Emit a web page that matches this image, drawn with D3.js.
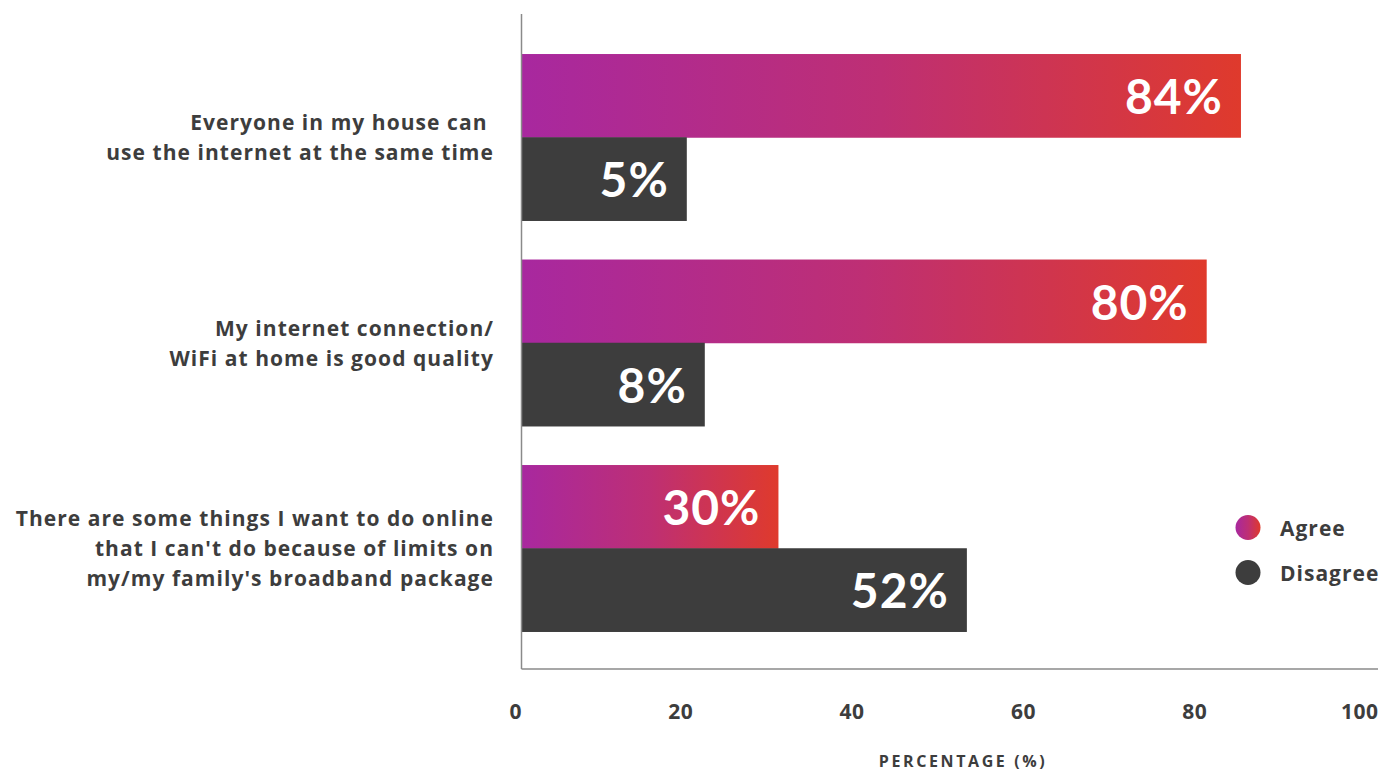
<!DOCTYPE html>
<html>
<head>
<meta charset="utf-8">
<script src="https://cdn.jsdelivr.net/npm/d3@7"></script>
<style>
  html, body { margin: 0; padding: 0; background: #fff; }
  svg { display: block; font-family: "Open Sans", Lato, sans-serif; }
</style>
</head>
<body>
<svg id="chart" width="1380" height="772"></svg>
<script>
// ---- data ----
const categories = [
  ["Everyone in my house can ", "use the internet at the same time"],
  ["My internet connection/", "WiFi at home is good quality"],
  ["There are some things I want to do online", "that I can't do because of limits on", "my/my family's broadband package"]
];
const seriesNames = ["Agree", "Disagree"];
const agreeValues = [84, 80, 30];          // labelled values (%)
const disagreeValues = [5, 8, 52];         // labelled values (%)
// bar lengths as drawn in the original (small bars were widened to fit their labels)
const agreeBarLengths = [84, 80, 30];
const disagreeBarLengths = [19.3, 21.4, 52];
const xTicks = [0, 20, 40, 60, 80, 100];
const xTitle = "PERCENTAGE (%)";

// ---- layout ----
const svg = d3.select("#chart");
const plotLeft = 521.5, plotRight = 1378, plotTop = 14, plotBottom = 669;
const textColor = "#3d3d3d";
const darkBar = "#3d3d3d";
const labelFont = "'Open Sans', sans-serif";
const valueFont = "Lato, sans-serif";

const x = d3.scaleLinear().domain([0, 100]).range([plotLeft, plotRight]);
const y = d3.scaleBand().domain(d3.range(categories.length))
  .range([34.5, 651]).paddingInner(0.19).paddingOuter(0.095);
const sub = d3.scaleBand().domain(seriesNames).range([0, y.bandwidth()]);

// gradient
const defs = svg.append("defs");
const grad = defs.append("linearGradient").attr("id", "agreeGrad")
  .attr("x1", "0%").attr("x2", "100%").attr("y1", "0%").attr("y2", "0%");
grad.append("stop").attr("offset", "0%").attr("stop-color", "#a8289f");
grad.append("stop").attr("offset", "50%").attr("stop-color", "#be2f74");
grad.append("stop").attr("offset", "100%").attr("stop-color", "#df3a2c");

const rows = categories.map((c, i) => ({
  i, lines: c,
  bars: [
    { s: "Agree", len: agreeBarLengths[i], v: agreeValues[i] },
    { s: "Disagree", len: disagreeBarLengths[i], v: disagreeValues[i] }
  ]
}));

const g = svg.append("g");
const grp = g.selectAll("g.row").data(rows).join("g").attr("class", "row")
  .attr("transform", d => `translate(0,${y(d.i)})`);

grp.selectAll("rect").data(d => d.bars).join("rect")
  .attr("x", x(0))
  .attr("y", d => sub(d.s))
  .attr("width", d => x(d.len) - x(0))
  .attr("height", sub.bandwidth() + 0.5)
  .attr("fill", d => d.s === "Agree" ? "url(#agreeGrad)" : darkBar);

grp.selectAll("text.val").data(d => d.bars).join("text").attr("class", "val")
  .attr("x", d => x(d.len) - 18)
  .attr("y", d => sub(d.s) + sub.bandwidth() / 2)
  .attr("text-anchor", "end")
  .attr("dominant-baseline", "central")
  .attr("fill", "#fff")
  .attr("font-family", valueFont)
  .attr("font-weight", 700)
  .attr("font-size", 48)
  .attr("letter-spacing", 1)
  .text(d => d.v + "%");

// category labels
grp.each(function(d) {
  const n = d.lines.length;
  const lh = 30;
  const cy = y.bandwidth() / 2;
  const t = d3.select(this).append("text")
    .attr("text-anchor", "end")
    .attr("fill", textColor)
    .attr("font-family", labelFont)
    .attr("font-weight", 700)
    .attr("font-size", 21)
    .attr("letter-spacing", 1.05)
    .attr("xml:space", "preserve");
  d.lines.forEach((ln, k) => {
    t.append("tspan")
      .attr("x", 494)
      .attr("y", cy + (k - (n - 1) / 2) * lh)
      .attr("dominant-baseline", "central")
      .text(ln);
  });
});

// axes lines
g.append("line").attr("x1", plotLeft).attr("x2", plotLeft).attr("y1", plotTop).attr("y2", plotBottom)
  .attr("stroke", "#8a8a8a").attr("stroke-width", 1.5);
g.append("line").attr("x1", plotLeft).attr("x2", plotRight).attr("y1", plotBottom).attr("y2", plotBottom)
  .attr("stroke", "#8a8a8a").attr("stroke-width", 1.5);

// x axis tick labels via d3 axis
const xAxis = d3.axisBottom(x).tickValues(xTicks).tickSize(0).tickPadding(0);
const ax = svg.append("g").attr("transform", `translate(0,${plotBottom})`).call(xAxis);
ax.select(".domain").remove();
ax.selectAll("text")
  .attr("text-anchor", "end")
  .attr("dy", null)
  .attr("y", 42)
  .attr("dominant-baseline", "central")
  .attr("fill", textColor)
  .attr("font-family", labelFont)
  .attr("font-weight", 700)
  .attr("font-size", 21)
  .attr("letter-spacing", 0.5);

svg.append("text")
  .attr("x", 963).attr("y", 761)
  .attr("text-anchor", "middle")
  .attr("dominant-baseline", "central")
  .attr("fill", textColor)
  .attr("font-family", labelFont)
  .attr("font-weight", 700)
  .attr("font-size", 16)
  .attr("letter-spacing", 2.6)
  .text(xTitle);

// legend
const leg = svg.append("g").selectAll("g").data(seriesNames).join("g")
  .attr("transform", (d, i) => `translate(1248,${527.5 + i * 45})`);
leg.append("circle").attr("r", 12.5)
  .attr("fill", d => d === "Agree" ? "url(#agreeGrad)" : darkBar);
leg.append("text").attr("x", 32).attr("y", 0)
  .attr("dominant-baseline", "central")
  .attr("fill", textColor)
  .attr("font-family", labelFont)
  .attr("font-weight", 700)
  .attr("font-size", 21)
  .attr("letter-spacing", 1)
  .text(d => d);
</script>
</body>
</html>
